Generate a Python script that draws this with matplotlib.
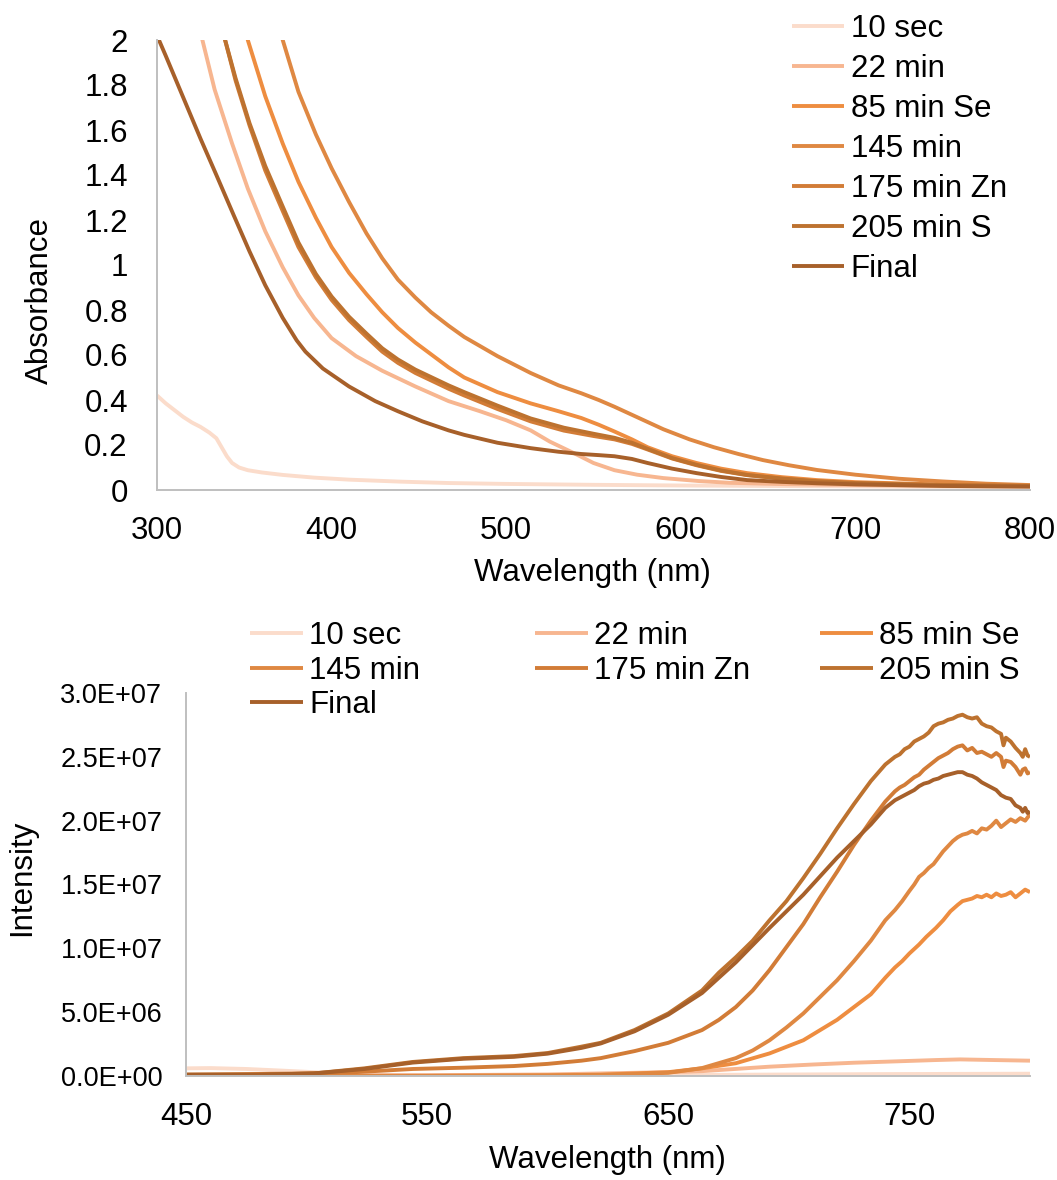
import matplotlib
matplotlib.use("Agg")
import matplotlib.pyplot as plt
import numpy as np
from matplotlib.ticker import FuncFormatter, MultipleLocator

plt.rcParams['font.family'] = ['Liberation Sans', 'DejaVu Sans']

names = ["10 sec", "22 min", "85 min Se", "145 min", "175 min Zn", "205 min S", "Final"]
colors = ["#FBDCCB", "#F7B690", "#EE8D40", "#DF8842", "#D27C37", "#BD722F", "#A7602A"]

# --- UV-vis absorbance ---
abs_x = {
    "10 sec": [300, 305, 310, 315, 320, 325, 330, 334, 337, 340, 343, 347, 352, 360, 372, 390,
               410, 440, 467, 500, 550, 600, 650, 700, 750, 800],
    "22 min": [320, 326, 333, 343, 352, 362, 372, 381, 390, 400, 414, 429, 448, 467, 485, 500,
               514, 525, 539, 550, 562, 575, 590, 610, 628, 660, 700, 750, 800],
    "85 min Se": [346, 352, 362, 372, 381, 391, 400, 410, 420, 429, 438, 448, 467, 476, 495, 514,
                  530, 543, 553, 562, 572, 581, 595, 609, 623, 638, 658, 678, 700, 750, 800],
    "145 min": [366, 372, 381, 391, 400, 410, 420, 429, 438, 448, 457, 467, 476, 495, 514, 530,
                543, 553, 562, 576, 590, 605, 619, 633, 647, 662, 678, 700, 725, 750, 775, 800],
    "175 min Zn": [333, 339, 345, 353, 362, 372, 381, 391, 400, 410, 420, 429, 438, 448, 467, 476,
                   495, 514, 533, 550, 562, 572, 581, 595, 609, 623, 638, 658, 678, 700, 750, 800],
    "205 min S": [333, 339, 345, 353, 362, 372, 381, 391, 400, 410, 420, 429, 438, 448, 467, 476,
                  495, 514, 533, 550, 562, 572, 581, 595, 609, 623, 638, 658, 678, 700, 750, 800],
    "Final": [300, 305, 315, 325, 334, 344, 353, 362, 372, 380, 385, 395, 410, 425, 438, 452, 467,
              476, 495, 514, 530, 543, 553, 562, 572, 581, 595, 609, 623, 638, 658, 678, 700, 750, 800],
}
abs_y = {
    "10 sec": [0.42, 0.385, 0.355, 0.325, 0.30, 0.28, 0.255, 0.23, 0.19, 0.15, 0.12, 0.10, 0.088,
               0.078, 0.067, 0.055, 0.046, 0.037, 0.031, 0.027, 0.023, 0.020, 0.018, 0.016, 0.014, 0.013],
    "22 min": [2.25, 2.0, 1.78, 1.54, 1.34, 1.15, 0.99, 0.865, 0.765, 0.675, 0.595, 0.53, 0.46, 0.395,
               0.35, 0.31, 0.265, 0.215, 0.163, 0.12, 0.088, 0.068, 0.053, 0.04, 0.032, 0.026, 0.022,
               0.018, 0.016],
    "85 min Se": [2.25, 2.0, 1.75, 1.54, 1.37, 1.21, 1.08, 0.965, 0.87, 0.79, 0.72, 0.655, 0.545, 0.50,
                  0.435, 0.385, 0.35, 0.32, 0.29, 0.26, 0.225, 0.19, 0.15, 0.12, 0.095, 0.075, 0.057,
                  0.044, 0.035, 0.024, 0.019],
    "145 min": [2.25, 2.0, 1.77, 1.58, 1.43, 1.28, 1.14, 1.03, 0.935, 0.855, 0.79, 0.73, 0.68, 0.595,
                0.52, 0.465, 0.43, 0.40, 0.37, 0.32, 0.27, 0.225, 0.19, 0.16, 0.133, 0.11, 0.089, 0.068,
                0.05, 0.038, 0.028, 0.022],
    "175 min Zn": [2.2, 2.0, 1.82, 1.62, 1.42, 1.24, 1.08, 0.945, 0.845, 0.755, 0.68, 0.615, 0.565,
                   0.52, 0.45, 0.42, 0.36, 0.305, 0.264, 0.24, 0.225, 0.205, 0.18, 0.14, 0.11, 0.085,
                   0.066, 0.05, 0.038, 0.03, 0.022, 0.018],
    "205 min S": [2.2, 2.0, 1.83, 1.63, 1.44, 1.26, 1.10, 0.96, 0.86, 0.77, 0.695, 0.63, 0.58,
                  0.535, 0.465, 0.435, 0.375, 0.318, 0.277, 0.25, 0.232, 0.21, 0.183, 0.142, 0.112,
                  0.087, 0.067, 0.051, 0.039, 0.031, 0.022, 0.018],
    "Final": [2.02, 1.93, 1.745, 1.56, 1.40, 1.22, 1.06, 0.91, 0.765, 0.665, 0.615, 0.54, 0.46, 0.395,
              0.35, 0.305, 0.265, 0.245, 0.21, 0.186, 0.17, 0.16, 0.155, 0.15, 0.138, 0.12, 0.095,
              0.075, 0.058, 0.044, 0.036, 0.03, 0.025, 0.018, 0.015],
}

# --- photoluminescence (intensity in units of 1e6) ---
pl_x = {
    "10 sec": [450, 460, 475, 490, 505, 520, 540, 570, 620, 680, 740, 800],
    "22 min": [450, 500, 550, 600, 622, 650, 664, 692, 710, 727, 745, 761, 771, 785, 800],
    "85 min Se": [450, 550, 600, 622, 636, 650, 664, 678, 692, 706, 720, 734, 740, 744, 747, 750,
                  754, 757, 761, 764, 767, 770, 772, 774, 776, 778, 780, 782, 784, 786, 788, 790,
                  792, 794, 796, 798, 800],
    "145 min": [450, 550, 600, 622, 636, 650, 664, 678, 685, 692, 699, 706, 713, 720, 727, 734, 740,
                744, 747, 750, 752, 754, 756, 758, 760, 762, 764, 766, 768, 770, 772, 774, 776, 778,
                780, 782, 784, 786, 788, 790, 792, 794, 796, 798, 800],
    "175 min Zn": [450, 500, 520, 544, 565, 586, 600, 614, 622, 636, 650, 664, 671, 678, 685, 692,
                   699, 706, 713, 720, 727, 734, 740, 742, 744, 746, 748, 750, 752, 754, 756, 758,
                   760, 762, 764, 766, 768, 770, 772, 774, 776, 778, 780, 782, 784, 786, 788, 789,
                   790, 792, 794, 796, 797, 798, 799, 800],
    "205 min S": [450, 480, 503, 524, 544, 565, 586, 600, 614, 622, 636, 650, 664, 671, 678, 685,
                  692, 699, 706, 713, 720, 727, 734, 740, 742, 744, 746, 748, 750, 752, 754, 756,
                  758, 760, 762, 764, 766, 768, 770, 772, 774, 776, 778, 780, 782, 784, 786, 788,
                  789, 790, 792, 794, 796, 797, 798, 799, 800],
    "Final": [450, 480, 503, 524, 544, 565, 586, 600, 614, 622, 636, 650, 664, 678, 692, 706, 720,
              727, 734, 740, 742, 744, 746, 748, 750, 752, 754, 756, 758, 760, 762, 764, 766, 768,
              770, 772, 774, 776, 778, 780, 782, 784, 786, 788, 790, 792, 794, 796, 797, 798, 799,
              800],
}
pl_y = {
    "10 sec": [0.60, 0.62, 0.55, 0.42, 0.28, 0.15, 0.07, 0.04, 0.05, 0.10, 0.15, 0.18],
    "22 min": [0.05, 0.05, 0.06, 0.12, 0.20, 0.30, 0.38, 0.73, 0.90, 1.04, 1.15, 1.25, 1.30, 1.25,
               1.20],
    "85 min Se": [0.0, 0.01, 0.05, 0.10, 0.20, 0.30, 0.60, 1.0, 1.77, 2.8, 4.4, 6.4, 7.7, 8.5, 9.0,
                  9.6, 10.3, 10.9, 11.6, 12.2, 12.9, 13.4, 13.7, 13.8, 13.9, 14.1, 14.0, 14.2, 14.0,
                  14.3, 14.1, 14.2, 14.4, 14.0, 14.3, 14.6, 14.4],
    "145 min": [0.0, 0.01, 0.04, 0.08, 0.15, 0.25, 0.62, 1.4, 2.0, 2.8, 3.8, 4.9, 6.2, 7.5, 9.0,
                10.6, 12.2, 13.0, 13.7, 14.5, 15.0, 15.6, 15.9, 16.3, 16.6, 17.1, 17.6, 18.0, 18.4,
                18.7, 18.9, 19.0, 19.2, 19.0, 19.4, 19.3, 19.6, 20.0, 19.5, 19.8, 20.1, 19.9, 20.2,
                20.0, 20.5],
    "175 min Zn": [0.1, 0.2, 0.3, 0.55, 0.65, 0.78, 0.95, 1.2, 1.4, 1.95, 2.6, 3.6, 4.4, 5.4, 6.7,
                   8.3, 10.1, 11.9, 14.0, 16.0, 18.1, 20.0, 21.5, 21.9, 22.3, 22.6, 22.8, 23.1, 23.4,
                   23.6, 24.0, 24.3, 24.6, 24.9, 25.1, 25.3, 25.6, 25.8, 25.9, 25.5, 25.7, 25.3, 25.4,
                   25.2, 25.0, 25.3, 25.0, 24.2, 24.7, 24.6, 24.2, 23.6, 24.0, 24.1, 23.7, 23.8],
    "205 min S": [0.1, 0.1, 0.2, 0.6, 1.1, 1.4, 1.56, 1.8, 2.3, 2.6, 3.6, 4.9, 6.7, 8.1, 9.3, 10.6,
                  12.2, 13.7, 15.5, 17.4, 19.4, 21.3, 23.1, 24.4, 24.7, 25.0, 25.2, 25.6, 25.8,
                  26.2, 26.4, 26.6, 26.9, 27.4, 27.6, 27.7, 27.9, 28.0, 28.2, 28.3, 28.1, 28.0,
                  28.1, 27.6, 27.4, 27.3, 27.0, 26.8, 25.9, 26.5, 26.2, 25.7, 25.3, 25.0, 25.6,
                  25.1, 25.0],
    "Final": [0.1, 0.1, 0.2, 0.55, 1.05, 1.35, 1.5, 1.75, 2.2, 2.55, 3.5, 4.8, 6.5, 8.9, 11.6, 14.2,
              17.1, 18.4, 19.7, 21.0, 21.3, 21.6, 21.8, 22.0, 22.2, 22.4, 22.7, 22.9, 23.0, 23.2,
              23.3, 23.5, 23.6, 23.7, 23.8, 23.8, 23.6, 23.5, 23.3, 23.0, 22.8, 22.6, 22.4, 22.0,
              21.8, 21.7, 21.2, 21.0, 20.7, 21.0, 20.6, 20.7],
}

abs_xticks = [300, 400, 500, 600, 700, 800]
pl_xticks = [450, 550, 650, 750]

W, H = 1057, 1180
FS = 22.5
fig = plt.figure(figsize=(W / 100, H / 100), dpi=100)


def px_box(x0, y0, x1, y1):
    return [x0 / W, 1 - y1 / H, (x1 - x0) / W, (y1 - y0) / H]


def style_axes(ax):
    for side in ("top", "right"):
        ax.spines[side].set_visible(False)
    for side in ("left", "bottom"):
        ax.spines[side].set_color("#BFBFBF")
        ax.spines[side].set_linewidth(1.4)
    ax.tick_params(length=0, labelsize=FS)


# top panel: absorbance
ax1 = fig.add_axes(px_box(157, 40, 1030, 490))
lines = []
for name, c in zip(names, colors):
    ln, = ax1.plot(abs_x[name], abs_y[name], color=c, lw=2.8, label=name,
                   solid_capstyle="butt", solid_joinstyle="round")
    lines.append(ln)
ax1.set_xlim(300, 800)
ax1.set_ylim(0, 2)
ax1.set_xticks(abs_xticks)
ax1.yaxis.set_major_locator(MultipleLocator(0.2))
ax1.yaxis.set_major_formatter(FuncFormatter(lambda v, p: "{:g}".format(round(v, 1))))
style_axes(ax1)
ax1.tick_params(axis="x", pad=19)
ax1.tick_params(axis="y", pad=21)
fig.text(592 / W, 1 - 573 / H, "Wavelength (nm)", ha="center", va="center", fontsize=FS)
fig.text(40 / W, 1 - 300 / H, "Absorbance", ha="center", va="center", rotation=90, fontsize=FS)

fig.legend(lines, names, loc="upper left", bbox_to_anchor=(792 / W, 1 - 14 / H),
           frameon=False, fontsize=FS, handlelength=1.66, handletextpad=0.22,
           labelspacing=0.32, borderpad=0, borderaxespad=0)

# bottom panel: photoluminescence
ax2 = fig.add_axes(px_box(186, 693, 1030, 1076))
lines2 = []
for name, c in zip(names, colors):
    ln, = ax2.plot(pl_x[name], np.array(pl_y[name]) * 1e6, color=c, lw=2.8, label=name,
                   solid_capstyle="butt", solid_joinstyle="round")
    lines2.append(ln)
ax2.set_xlim(450, 800)
ax2.set_ylim(0, 3e7)
ax2.set_xticks(pl_xticks)
ax2.yaxis.set_major_locator(MultipleLocator(5e6))
ax2.yaxis.set_major_formatter(FuncFormatter(lambda v, p: "{:.1E}".format(v)))
style_axes(ax2)
ax2.tick_params(axis="x", pad=19)
ax2.tick_params(axis="y", pad=17, labelsize=19.5)
fig.text(607 / W, 1 - 1160 / H, "Wavelength (nm)", ha="center", va="center", fontsize=FS)
fig.text(22 / W, 1 - 878 / H, "Intensity", ha="center", va="center", rotation=90, fontsize=FS)

# legend laid out in three fixed-width columns
columns = [[0, 3, 6], [1, 4], [2, 5]]
col_left = [250, 535, 820]
for idx, x0 in zip(columns, col_left):
    fig.legend([lines2[i] for i in idx], [names[i] for i in idx], loc="upper left",
               bbox_to_anchor=(x0 / W, 1 - 621 / H), frameon=False, fontsize=FS,
               handlelength=1.7, handletextpad=0.2, labelspacing=0.15,
               borderpad=0, borderaxespad=0)

fig.savefig("out.png", dpi=100)
